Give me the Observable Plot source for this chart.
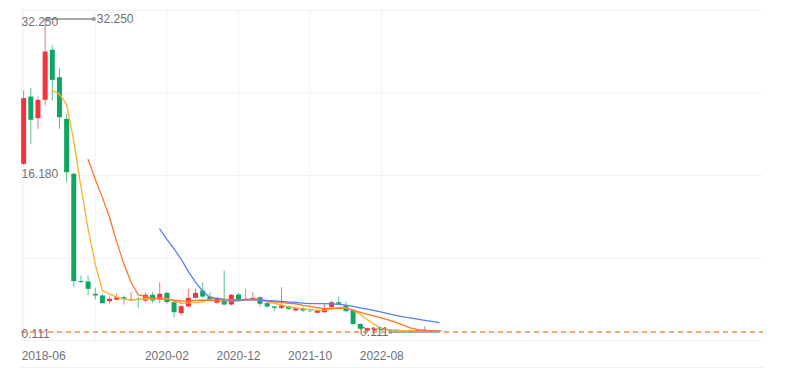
<!DOCTYPE html>
<html><head><meta charset="utf-8">
<script src="https://cdn.jsdelivr.net/npm/d3@7"></script>
<script src="https://cdn.jsdelivr.net/npm/@observablehq/plot@0.6"></script>
<style>
body{margin:0;background:#fff;}
#chart svg{display:block;}
</style></head><body><div id="chart"></div>
<script>
const months = ["2018-06","2018-07","2018-08","2018-09","2018-10","2018-11","2018-12",
"2019-01","2019-02","2019-03","2019-04","2019-05","2019-06","2019-07","2019-08","2019-09","2019-10","2019-11","2019-12",
"2020-01","2020-02","2020-03","2020-04","2020-05","2020-06","2020-07","2020-08","2020-09","2020-10","2020-11","2020-12",
"2021-01","2021-02","2021-03","2021-04","2021-05","2021-06","2021-07","2021-08","2021-09","2021-10","2021-11","2021-12",
"2022-01","2022-02","2022-03","2022-04","2022-05","2022-06","2022-07","2022-08","2022-09","2022-10","2022-11","2022-12",
"2023-01","2023-02","2023-03","2023-04"];
const open  = [17.33,24.24,22.01,23.90,29.04,26.22,21.95,16.30,5.30,5.25,3.98,3.81,3.22,3.37,3.63,3.30,3.47,3.29,3.88,3.40,
               4.08,3.12,1.99,2.68,3.57,4.32,3.70,3.06,3.29,2.88,3.91,3.37,3.37,3.63,3.02,2.68,2.54,2.68,2.27,2.44,
               2.25,2.03,2.09,2.61,3.12,2.78,2.34,0.88,0.21,0.22,0.35,0.30,0.28,0.25,0.16,0.18,0.30,0.22,0.12];
const high  = [24.86,25.13,24.24,32.25,29.48,27.19,22.46,16.40,5.86,5.86,4.60,3.98,3.70,4.04,3.81,4.15,3.63,4.11,4.15,5.17,
               4.15,3.29,2.85,4.49,4.49,5.17,4.15,3.57,6.37,3.98,4.08,4.49,4.15,3.70,3.12,2.70,4.66,2.78,2.61,2.68,
               2.34,2.34,2.95,3.29,3.70,3.19,2.44,0.95,0.50,0.45,0.50,0.35,0.32,0.30,0.30,0.32,0.65,0.26,0.25];
const low   = [17.20,19.38,20.92,23.32,23.83,20.92,15.44,4.66,5.07,3.81,3.40,2.96,2.96,3.37,2.88,3.29,2.54,3.12,3.02,3.02,
               2.96,1.52,1.75,2.61,3.47,3.57,3.22,2.96,2.78,2.78,3.19,3.29,3.29,2.68,2.54,2.20,2.44,2.34,2.16,2.09,
               2.09,2.00,1.99,2.50,2.88,2.09,0.73,0.28,0.18,0.18,0.20,0.18,0.16,0.15,0.15,0.15,0.15,0.14,0.111];
const close = [24.07,21.85,23.90,28.86,25.95,22.11,16.47,5.28,5.20,4.49,3.81,3.02,3.47,3.63,3.47,3.40,3.37,3.88,3.29,3.98,
               3.13,2.09,2.71,3.57,4.08,3.70,3.29,3.47,2.88,3.88,3.29,3.47,3.57,2.95,2.68,2.54,2.78,2.44,2.51,2.27,
               2.20,2.27,2.50,3.12,2.95,2.20,0.88,0.39,0.45,0.40,0.25,0.22,0.20,0.18,0.26,0.28,0.18,0.16,0.22];
const xTickLabels = ["2018-06","2020-02","2020-12","2021-10","2022-08"];
const gridMonths = ["2018-06","2019-04","2020-02","2020-12","2021-10","2022-08"];
const maPeriods = [5, 10, 20];
const maColors = ["#FBB12E", "#FF7426", "#5B7CF5"];
const slotCount = 104; // category slots on the axis; data fills the first ones

const upColor = "#F5333F", downColor = "#10A861";
const textColor = "#6E7079", gridColor = "#F2F2F2";

const data = months.map((m, i) => ({i, m, open: open[i], high: high[i], low: low[i], close: close[i]}));
const lo = d3.min(low), hi = d3.max(high);
const pad = (hi - lo) * 0.0272;
const yDomain = [lo - pad, hi + pad];
const yGrid = d3.range(5).map(k => yDomain[0] + k * (yDomain[1] - yDomain[0]) / 4);
const xDomain = [-0.3, slotCount - 0.7];
const idx = m => months.indexOf(m);
const iMax = d3.maxIndex(high), iMin = d3.minIndex(low);
const fmt = d3.format(".3f");
const markSpan = 6.8;
const col = d => d.close >= d.open ? upColor : downColor;

const marks = [
  Plot.ruleY(yGrid, {stroke: gridColor, strokeWidth: 1}),
  Plot.ruleX([xDomain[0], ...gridMonths.map(idx)], {stroke: gridColor, strokeWidth: 1}),
  Plot.ruleY([yDomain[0]], {stroke: "#EEEEEE", dy: 27, clip: false}),
  Plot.ruleX(data, {x: "i", y1: "low", y2: "high", stroke: col, strokeOpacity: 0.7, strokeWidth: 1}),
  Plot.ruleX(data, {x: "i", y1: "open", y2: "close", stroke: col, strokeWidth: 5}),
  Plot.ruleY([lo], {stroke: "#F5894A", strokeWidth: 1.5, strokeDasharray: "5,4"}),
  ...maPeriods.map((k, j) => Plot.lineY(data, Plot.windowY({k, anchor: "end", reduce: "mean", strict: true},
      {x: "i", y: "close", stroke: maColors[j], strokeWidth: 1.3}))),
  // max marker
  Plot.ruleY([hi], {x1: iMax, x2: iMax + markSpan, stroke: "#A8A8A8", strokeWidth: 2}),
  Plot.dot([0], {x: () => iMax + markSpan, y: () => hi, r: 2, fill: "#999"}),
  Plot.text([fmt(hi)], {x: () => iMax + markSpan, y: () => hi, text: d => d, textAnchor: "start", dx: 3, fill: textColor, fontSize: 12}),
  // min marker
  Plot.ruleY([lo], {x1: iMin - markSpan, x2: iMin, stroke: "#A8A8A8", strokeWidth: 2}),
  Plot.dot([0], {x: () => iMin - markSpan, y: () => lo, r: 2, fill: "#999"}),
  Plot.text([fmt(lo)], {x: () => iMin - markSpan, y: () => lo, text: d => d, textAnchor: "end", dx: -2, fill: textColor, fontSize: 12}),
  // y labels
  Plot.text([fmt(hi)], {x: () => xDomain[0], y: () => yDomain[1], text: d => d, textAnchor: "start", lineAnchor: "top", dy: 7, fill: textColor, fontSize: 12}),
  Plot.text([fmt((hi + lo) / 2)], {x: () => xDomain[0], y: () => (hi + lo) / 2, text: d => d, textAnchor: "start", dy: -1.5, fill: textColor, fontSize: 12}),
  Plot.text([fmt(lo)], {x: () => xDomain[0], y: () => yDomain[0], text: d => d, textAnchor: "start", lineAnchor: "bottom", dy: -2.5, fill: textColor, fontSize: 12}),
  // x labels
  Plot.axisX([idx(xTickLabels[0])], {label: null, tickSize: 0, tickPadding: 11, tickFormat: i => months[i], textAnchor: "start", dx: -2, fill: textColor, fontSize: 12}),
  Plot.axisX(xTickLabels.slice(1).map(idx), {label: null, tickSize: 0, tickPadding: 11, tickFormat: i => months[i], fill: textColor, fontSize: 12})
];

const chart = Plot.plot({
  width: 789, height: 373,
  marginLeft: 21, marginRight: 26, marginTop: 10, marginBottom: 33,
  x: {type: "linear", domain: xDomain, axis: null, label: null},
  y: {domain: yDomain, axis: null},
  style: {fontFamily: "'Liberation Sans', Arial, sans-serif", fontSize: "12px", color: textColor, background: "#fff"},
  marks
});
document.getElementById("chart").append(chart);
</script></body></html>
